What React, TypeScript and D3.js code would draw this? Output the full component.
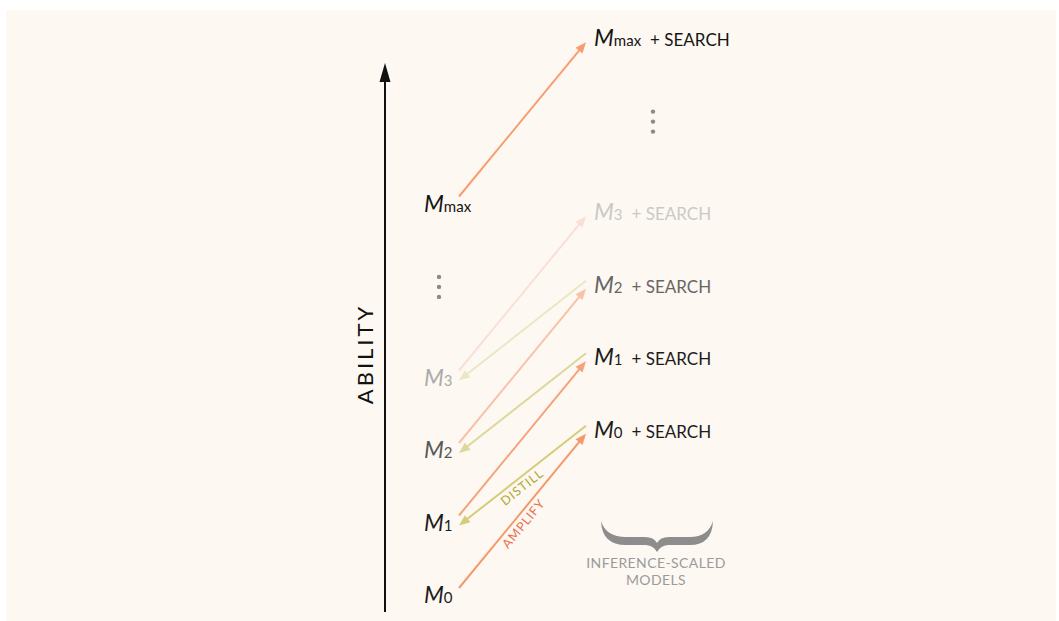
import React from "react";
import * as d3 from "d3";

// ---- data ----
const modelNames = ["M", "M", "M", "M", "M"];
const modelSubs = ["0", "1", "2", "3", "max"];
const modelAbility = [0, 1, 2, 3, 5.4];
const leftTextColors = ["#1c1c1c", "#1c1c1c", "#595959", "#ababab", "#151515"];
const rightTextColors = ["#1c1c1c", "#1c1c1c", "#666666", "#c9c9c9", "#151515"];
const amplifyColors = ["#f5996c", "#f6a27c", "#f8c2a9", "#f9e0d6", "#f89d6f"];
const distillFrom = [0, 1, 2];
const distillColors = ["#d4cc7b", "#dcd79c", "#e9e7c5"];
const searchBoost = 2.28;
const dotsAbilityLeft = 4.25;
const searchLabel = "+ SEARCH";
const axisTitle = "ABILITY";
const braceCaption = ["INFERENCE-SCALED", "MODELS"];

const FONT = "Lato, 'Open Sans', sans-serif";

function Arrow({ x1, y1, x2, y2, color, w = 2, head = 11, half = 4.5 }: any) {
  const dx = x2 - x1, dy = y2 - y1;
  const len = Math.hypot(dx, dy);
  const ux = dx / len, uy = dy / len;
  const bx = x2 - ux * head, by = y2 - uy * head;
  const px = -uy, py = ux;
  return (
    <g>
      <line x1={x1} y1={y1} x2={bx + ux * 1} y2={by + uy * 1} stroke={color} strokeWidth={w} />
      <polygon
        points={`${x2},${y2} ${bx + px * half},${by + py * half} ${bx - px * half},${by - py * half}`}
        fill={color}
      />
    </g>
  );
}

function Label({ x, y, name, sub, color, suffix }: any) {
  return (
    <text x={x} y={y} fill={color} fontFamily={FONT}>
      <tspan fontStyle="italic" fontSize={23} letterSpacing={-1}>{name}</tspan>
      <tspan fontSize={15} dx={1}>{sub}</tspan>
      {suffix ? <tspan fontSize={17} dx={9}>{suffix}</tspan> : null}
    </text>
  );
}

export default function App() {
  const W = 1059, H = 621;
  const y = d3.scaleLinear().domain([0, 1]).range([595, 522.5]);
  const xLeftText = 424;
  const xRightText = 594;
  const xLeftArrow = 459;
  const xRightArrow = 586;
  const axisX = 385;

  const dot = (cx: number, cy: number, k: string) => (
    <g key={k}>
      {[-10, 0, 10].map((o) => (
        <circle key={o} cx={cx} cy={cy + o} r={2.2} fill="#8a8a8a" />
      ))}
    </g>
  );

  // angles of first amplify / distill arrows
  const a0 = { x1: xLeftArrow, y1: y(0) - 7, x2: xRightArrow, y2: y(searchBoost) + 4 };
  const d0 = { x1: xRightArrow, y1: y(searchBoost) - 4, x2: xLeftArrow, y2: y(1) + 3 };
  const angA = (Math.atan2(a0.y2 - a0.y1, a0.x2 - a0.x1) * 180) / Math.PI;
  const angD = (Math.atan2(d0.y1 - d0.y2, d0.x1 - d0.x2) * 180) / Math.PI;

  return (
    <svg width={W} height={H} style={{ position: "absolute", left: 0, top: 0 }}>
      <rect x={0} y={0} width={W} height={H} fill="#ffffff" />
      <rect x={6} y={10} width={1050} height={611} fill="#fdf8f2" />

      {/* ability axis */}
      <line x1={axisX} y1={612} x2={axisX} y2={76} stroke="#111" strokeWidth={2} />
      <polygon points={`${axisX},63 ${axisX - 5.5},82 ${axisX + 5.5},82`} fill="#111" />
      <text
        transform={`translate(${373},${354}) rotate(-90)`}
        textAnchor="middle"
        fontFamily={FONT}
        fontSize={22}
        letterSpacing={3}
        fill="#111"
      >
        {axisTitle}
      </text>

      {/* distill arrows */}
      {distillFrom.map((k, i) => (
        <Arrow
          key={"d" + k}
          x1={xRightArrow}
          y1={y(k + searchBoost) - 4}
          x2={xLeftArrow}
          y2={y(k + 1) + 3}
          color={distillColors[i]}
        />
      ))}

      {/* amplify arrows */}
      {modelAbility.map((a, i) => (
        <Arrow
          key={"a" + i}
          x1={xLeftArrow}
          y1={y(a) - 7}
          x2={xRightArrow}
          y2={y(a + searchBoost) + 4}
          color={amplifyColors[i]}
        />
      ))}

      {/* arrow labels */}
      <text
        transform={`translate(${522},${487}) rotate(${angD})`}
        textAnchor="middle"
        dy="0.36em"
        fontFamily={FONT}
        fontSize={12.5}
        letterSpacing={1}
        fill="#b3a935"
      >
        DISTILL
      </text>
      <text
        transform={`translate(${523.5},${523.5}) rotate(${angA})`}
        textAnchor="middle"
        dy="0.36em"
        fontFamily={FONT}
        fontSize={12.5}
        letterSpacing={1}
        fill="#e8704a"
      >
        AMPLIFY
      </text>

      {/* left labels */}
      {modelAbility.map((a, i) => (
        <Label
          key={"l" + i}
          x={xLeftText}
          y={y(a) + 8}
          name={modelNames[i]}
          sub={modelSubs[i]}
          color={leftTextColors[i]}
        />
      ))}
      {/* right labels */}
      {modelAbility.map((a, i) => (
        <Label
          key={"r" + i}
          x={xRightText}
          y={y(a + searchBoost) + 8}
          name={modelNames[i]}
          sub={modelSubs[i]}
          color={rightTextColors[i]}
          suffix={searchLabel}
        />
      ))}

      {dot(439, y(dotsAbilityLeft), "dl")}
      {dot(653, y(dotsAbilityLeft + searchBoost), "dr")}

      {/* brace */}
      <path
        d="M601,521 Q602,545 626,545 L646,545 Q654,546 657,552 Q660,546 668,545 L690,545 Q712,545 713,521 Q708,537 690,537 L669,537 Q660,537 657,543 Q654,537 645,537 L626,537 Q606,537 601,521 Z"
        fill="#8d8d8d"
      />
      {braceCaption.map((t, i) => (
        <text
          key={t}
          x={656}
          y={568 + i * 17}
          textAnchor="middle"
          fontFamily={FONT}
          fontSize={14}
          letterSpacing={0.4}
          fill="#9b9b9b"
        >
          {t}
        </text>
      ))}
    </svg>
  );
}
